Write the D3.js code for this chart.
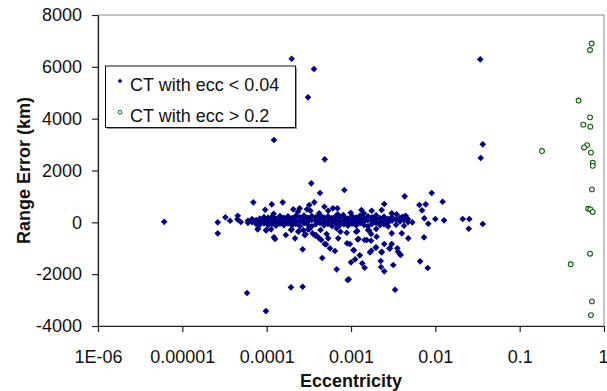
<!DOCTYPE html>
<html>
<head>
<meta charset="utf-8">
<script src="https://cdn.jsdelivr.net/npm/d3@7"></script>
<style>
  body { margin: 0; background: #fff; }
  svg { font-family: "Liberation Sans", Arial, sans-serif; }
</style>
</head>
<body>
<div id="chart"></div>
<script>
// tick values and labels
const yTicks = [-4000, -2000, 0, 2000, 4000, 6000, 8000];
const xTicks = [1e-6, 1e-5, 1e-4, 1e-3, 0.01, 0.1, 1];
const xTickLabels = ["1E-06", "0.00001", "0.0001", "0.001", "0.01", "0.1", "1"];
const seriesNames = ["CT with ecc < 0.04", "CT with ecc > 0.2"];

// CT with ecc < 0.04 : [eccentricity, range error km] -- scattered points
const lowScatter = [
  [6.1e-6, 20], [2.63e-5, 0], [2.63e-5, -425], [3.24e-5, 193], [3.68e-5, 62],
  [4.54e-5, 255], [4.5e-5, 116], [4.93e-5, 12], [5.85e-5, -2729], [9.8e-5, -3424],
  [1.94e-4, -2509], [2.67e-4, -2486], [6.95e-5, 772], [1.15e-4, 695], [1.55e-4, 772],
  [1.0e-4, -297], [7.8e-5, -270], [1.22e-4, -579], [1.26e-4, -645], [1.69e-4, -490],
  [2.17e-4, -618], [9.6e-5, 486], [1.21e-4, 332], [2.07e-4, 502], [1.98e-4, 6313],
  [1.22e-4, 3176], [3.64e-4, 5916], [3.09e-4, 4824], [0.0341, 6290], [0.0365, 3010],
  [0.0345, 2481], [4.88e-4, 2431], [3.38e-4, 1505], [4.29e-4, 1131], [8.34e-4, 1246],
  [4.33e-3, 1003], [9.06e-3, 1131], [2.48e-3, 706], [6.46e-3, 668], [7.69e-3, 695],
  [1.22e-2, 795], [6.95e-3, 463], [7.4e-3, 154], [8.25e-3, -54], [1.0e-2, 127],
  [1.27e-2, 77], [2.11e-2, 127], [2.53e-2, 127], [3.65e-2, -66], [2.49e-2, -247],
  [5.33e-3, 0], [4.0e-3, -425], [4.78e-3, -618], [7.34e-3, -579], [6.6e-3, -1505],
  [8.13e-3, -1764], [3.33e-3, -2601], [9.1e-4, -2227], [9.4e-4, -2200], [6.76e-4, -1814],
  [4.56e-4, -1378], [1.0e-3, -1544], [1.12e-3, -1428], [1.36e-3, -1582], [1.45e-3, -1752],
  [1.27e-3, -1274], [1.08e-3, -1081], [9.7e-4, -837], [2.25e-3, -1493], [2.27e-3, -1725],
  [2.48e-3, -1891], [3.17e-3, -1648], [1.68e-3, -1158], [1.74e-3, -1096], [1.98e-3, -965],
  [2.31e-3, -1158], [2.85e-3, -1003], [3.54e-3, -1003], [3.61e-3, -1135], [3.81e-3, -1235],
  [2.48e-3, -837], [3.04e-3, -837], [1.73e-3, -710], [1.45e-3, -683], [1.23e-3, -645],
  [5.05e-4, -849], [5.63e-4, -1003], [6.45e-4, -1108], [4.44e-4, -683], [2.67e-4, -1042],
  [3.77e-4, -517], [2.82e-4, -490], [1.19e-3, -336], [1.99e-3, -259], [3.04e-3, -425],
  [1.65e-3, -324], [1.98e-4, -270], [2.37e-4, -363], [2.72e-4, -297], [2.89e-4, -463],
  [3.2e-4, -259], [3.5e-4, -425], [4.35e-4, -297], [4.2e-4, -618], [5.13e-4, -452],
  [5.36e-4, -618], [4.9e-4, -837], [6.76e-4, -232], [7.5e-4, -363], [8.9e-4, -401],
  [7.05e-4, -618], [1.15e-3, -363], [1.2e-3, -656], [1.59e-3, -297], [1.54e-3, -683],
  [1.73e-3, -452], [1.07e-3, -1069], [8.98e-4, -810], [2.01e-3, -556], [2.9e-3, -1003],
  [3.88e-3, -1262], [1.97e-3, -980], [2.31e-3, -1135], [3.67e-4, 772], [3.2e-4, 668],
  [3.0e-4, 502], [3.3e-4, 448], [2.46e-4, 540], [2.35e-4, 409], [4.84e-4, 602],
  [4.2e-4, 347], [5.36e-4, 448], [6.1e-4, 540], [6.9e-4, 540], [6.95e-4, 309],
  [9.9e-4, 371], [1.33e-3, 475], [1.42e-3, 347], [1.76e-3, 448], [8.1e-4, 282],
  [2.31e-3, 475], [3.04e-3, 347], [3.47e-3, 309], [4.1e-3, 216], [4.45e-3, 255],
  [7.9e-5, -247], [9.8e-5, -309], [1.13e-4, -270], [1.95e-4, -297], [2.4e-4, -336],
  [3.1e-4, -270], [3.85e-4, -490]
];

// CT with ecc < 0.04 : the dense band near zero
const lowBand = [
  [6.0e-5, 60], [6.0e-5, -20], [6.7e-5, 130], [6.7e-5, 10], [7.5e-5, 90], [7.5e-5, -60],
  [8.3e-5, 150], [8.3e-5, 30], [8.3e-5, -90], [9.3e-5, 110], [9.3e-5, -40], [9.3e-5, 200],
  [1.04e-4, 180], [1.04e-4, 40], [1.04e-4, -100], [1.16e-4, 220], [1.16e-4, 80], [1.16e-4, -60],
  [1.29e-4, 150], [1.29e-4, 10], [1.29e-4, -130], [1.44e-4, 240], [1.44e-4, 90], [1.44e-4, -50],
  [1.6e-4, 170], [1.6e-4, 20], [1.6e-4, -110], [1.79e-4, 230], [1.79e-4, 100], [1.79e-4, -40],
  [2.0e-4, 160], [2.0e-4, 30], [2.0e-4, -120], [2.22e-4, 250], [2.22e-4, 80], [2.22e-4, -60],
  [2.48e-4, 190], [2.48e-4, 40], [2.48e-4, -140], [2.77e-4, 260], [2.77e-4, 110], [2.77e-4, -30],
  [3.09e-4, 170], [3.09e-4, 20], [3.09e-4, -100], [3.44e-4, 240], [3.44e-4, 90], [3.44e-4, -150],
  [3.84e-4, 200], [3.84e-4, 50], [3.84e-4, -70], [4.29e-4, 270], [4.29e-4, 120], [4.29e-4, -20],
  [4.78e-4, 180], [4.78e-4, 10], [4.78e-4, -120], [5.33e-4, 230], [5.33e-4, 80], [5.33e-4, -60],
  [5.95e-4, 160], [5.95e-4, 30], [5.95e-4, -140], [6.63e-4, 250], [6.63e-4, 100], [6.63e-4, -40],
  [7.4e-4, 190], [7.4e-4, 40], [7.4e-4, -110], [8.25e-4, 220], [8.25e-4, 70], [8.25e-4, -70],
  [9.2e-4, 150], [9.2e-4, 10], [9.2e-4, -130], [1.03e-3, 240], [1.03e-3, 90], [1.03e-3, -50],
  [1.15e-3, 180], [1.15e-3, 30], [1.15e-3, -120], [1.28e-3, 260], [1.28e-3, 110], [1.28e-3, -30],
  [1.43e-3, 170], [1.43e-3, 20], [1.43e-3, -100], [1.59e-3, 230], [1.59e-3, 80], [1.59e-3, -150],
  [1.77e-3, 190], [1.77e-3, 50], [1.77e-3, -60], [1.98e-3, 270], [1.98e-3, 120], [1.98e-3, -20],
  [2.21e-3, 160], [2.21e-3, 10], [2.21e-3, -110], [2.46e-3, 220], [2.46e-3, 70], [2.46e-3, -70],
  [2.75e-3, 140], [2.75e-3, -10], [2.75e-3, -160], [3.06e-3, 200], [3.06e-3, 60],
  [3.42e-3, 110], [3.42e-3, -90], [3.81e-3, 170], [3.81e-3, 30], [4.25e-3, 90], [4.25e-3, -130],
  [4.74e-3, 130], [4.74e-3, 10]
];

// CT with ecc > 0.2
const highEcc = [
  [0.714, 6900], [0.683, 6650], [0.50, 4700], [0.683, 4050], [0.569, 3770],
  [0.688, 3690], [0.63, 2980], [0.58, 2890], [0.70, 2690], [0.735, 2300],
  [0.735, 2180], [0.184, 2750], [0.72, 1270], [0.65, 525], [0.688, 500],
  [0.735, 400], [0.683, -1210], [0.403, -1620], [0.72, -3050], [0.70, -3580]
];

const W = 607, H = 391;
const margin = {top: 15, right: 3, bottom: 65, left: 98};

const svg = d3.select('#chart').append('svg')
  .attr('width', W)
  .attr('height', H);

const x = d3.scaleLog().domain([1e-6, 1]).range([margin.left, W - margin.right]);
const y = d3.scaleLinear().domain([-4000, 8000]).range([H - margin.bottom, margin.top]);

// plot frame (grey on top and right)
svg.append('rect')
  .attr('x', margin.left)
  .attr('y', margin.top)
  .attr('width', W - margin.right - margin.left)
  .attr('height', H - margin.bottom - margin.top)
  .attr('fill', 'none')
  .attr('stroke', '#8a8a8a')
  .attr('stroke-width', 1);

const yAxis = svg.append('g')
  .attr('transform', 'translate(' + margin.left + ',0)')
  .call(d3.axisLeft(y).tickValues(yTicks).tickSize(6).tickSizeOuter(0).tickPadding(10).tickFormat(d => String(d)));

const xAxis = svg.append('g')
  .attr('transform', 'translate(0,' + (H - margin.bottom) + ')')
  .call(d3.axisBottom(x).tickValues(xTicks).tickSize(6).tickSizeOuter(0).tickPadding(18)
    .tickFormat((d, i) => xTickLabels[i]));

[yAxis, xAxis].forEach(a => {
  a.select('.domain').attr('stroke', '#222').attr('stroke-width', 1.2);
  a.selectAll('.tick line').attr('stroke', '#222').attr('stroke-width', 1.2);
  a.selectAll('.tick text').attr('fill', '#111').style('font-size', '18px');
});
xAxis.selectAll('.tick text').attr('dy', '0.71em');
// last label sits at the right edge, nudge it inside
xAxis.selectAll('.tick text').filter(d => d === 1).attr('text-anchor', 'end').attr('x', 4);

// axis titles
svg.append('text')
  .attr('x', (margin.left + W - margin.right) / 2)
  .attr('y', 387)
  .attr('text-anchor', 'middle')
  .style('font-size', '18px')
  .style('font-weight', 'bold')
  .attr('fill', '#111')
  .text('Eccentricity');

svg.append('text')
  .attr('transform', 'translate(30,' + ((margin.top + H - margin.bottom) / 2) + ') rotate(-90)')
  .attr('text-anchor', 'middle')
  .style('font-size', '18px')
  .style('font-weight', 'bold')
  .attr('fill', '#111')
  .text('Range Error (km)');

// markers
const diamond = d3.symbol().type(d3.symbolDiamond2 || d3.symbolDiamond).size(28);
const navy = '#000080';
const green = '#0b5e0b';

svg.append('g').selectAll('path')
  .data(lowScatter.concat(lowBand))
  .enter().append('path')
    .attr('d', diamond)
    .attr('transform', d => 'translate(' + x(d[0]) + ',' + y(d[1]) + ')')
    .attr('fill', navy);

svg.append('g').selectAll('circle')
  .data(highEcc)
  .enter().append('circle')
    .attr('cx', d => x(d[0]))
    .attr('cy', d => y(d[1]))
    .attr('r', 2.4)
    .attr('fill', 'white')
    .attr('stroke', green)
    .attr('stroke-width', 1.1);

// legend
const lg = svg.append('g');
lg.append('rect')
  .attr('x', 107).attr('y', 67.5).attr('width', 190).attr('height', 61.5)
  .attr('fill', '#999');
lg.append('rect')
  .attr('x', 105.5).attr('y', 66).attr('width', 190).attr('height', 61.5)
  .attr('fill', 'white').attr('stroke', '#111').attr('stroke-width', 1);

lg.append('path')
  .attr('d', d3.symbol().type(d3.symbolDiamond2 || d3.symbolDiamond).size(14))
  .attr('transform', 'translate(120,81)')
  .attr('fill', navy);
lg.append('circle')
  .attr('cx', 120).attr('cy', 112.3).attr('r', 1.9)
  .attr('fill', 'white').attr('stroke', green).attr('stroke-width', 1);

lg.selectAll('text.lab')
  .data(seriesNames)
  .enter().append('text')
    .attr('class', 'lab')
    .attr('x', 130)
    .attr('y', (d, i) => 91 + i * 31)
    .style('font-size', '18px')
    .attr('fill', '#111')
    .text(d => d);
</script>
</body>
</html>
